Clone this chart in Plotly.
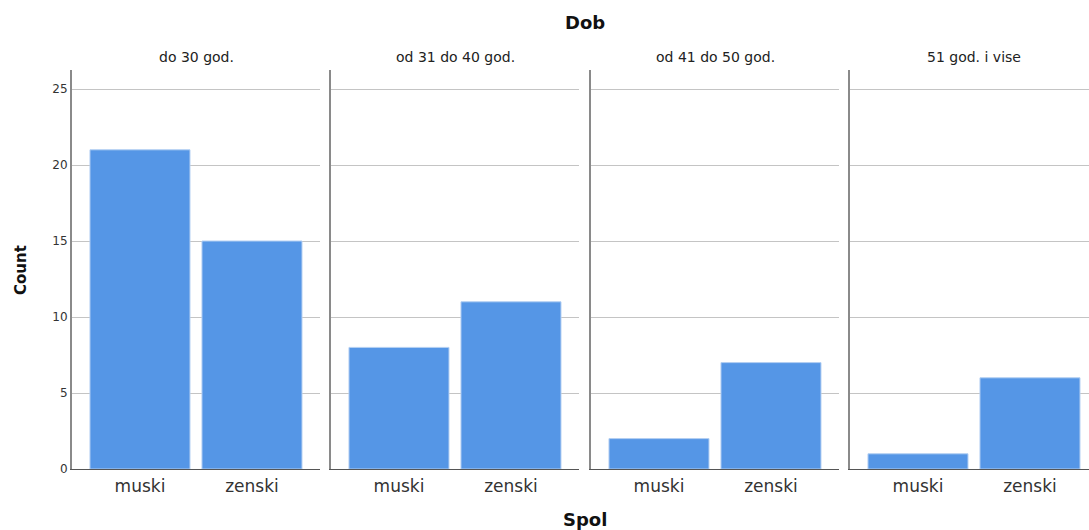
import plotly.graph_objects as go

panels = ["do 30 god.", "od 31 do 40 god.", "od 41 do 50 god.", "51 god. i vise"]
spol = ["muski", "zenski"]
counts = {
    "do 30 god.": [21, 15],
    "od 31 do 40 god.": [8, 11],
    "od 41 do 50 god.": [2, 7],
    "51 god. i vise": [1, 6],
}
y_ticks = [0, 5, 10, 15, 20, 25]

W, H = 1089, 530
ML, MR, MT, MB = 72, 0, 70, 61
plot_w = W - ML - MR
plot_h = H - MT - MB
panel_px = [(72, 320), (331, 579), (591, 839), (850, 1098)]
unit = 112.0  # px per category unit
FONT = "DejaVu Sans, sans-serif"


def px_x(x):
    return (x - ML) / plot_w


def px_y(y):
    return (H - MB - y) / plot_h


fig = go.Figure()
for i, p in enumerate(panels):
    idx = "" if i == 0 else str(i + 1)
    x0, x1 = panel_px[i]
    x1c = min(x1, W - MR)
    dom = [px_x(x0), px_x(x1c)]
    lo = -0.607
    hi = lo + (x1c - x0) / unit
    fig.add_trace(go.Bar(
        x=spol, y=counts[p], xaxis="x" + idx, yaxis="y" + idx,
        marker=dict(color="#5596E6", line=dict(color="#b3cff2", width=1)),
        width=0.893, showlegend=False, hoverinfo="x+y",
    ))
    fig.layout["xaxis" + idx] = dict(
        domain=dom, range=[lo, hi], type="category", categoryarray=spol,
        showgrid=False, showline=True, linecolor="#555555", linewidth=1,
        ticks="", tickfont=dict(family=FONT, size=17, color="#333333"),
        ticklabelstandoff=2,
        anchor="y" + idx, zeroline=False, fixedrange=True,
    )
    fig.layout["yaxis" + idx] = dict(
        range=[0, 26.25], tickvals=y_ticks, showticklabels=(i == 0),
        showgrid=True, gridcolor="#c4c4c4", gridwidth=1,
        showline=True, linecolor="#8a8a8a", linewidth=2,
        zeroline=False, ticks="", tickfont=dict(family=FONT, size=12, color="#333333"),
        anchor="x" + idx, fixedrange=True,
    )
    fig.add_annotation(
        x=px_x((x0 + x1) / 2), y=px_y(57), xref="paper", yref="paper",
        xanchor="center", yanchor="middle", text=p, showarrow=False,
        font=dict(family=FONT, size=14, color="#222222"),
    )

fig.add_annotation(x=px_x(585), y=px_y(22), xref="paper", yref="paper",
                   xanchor="center", yanchor="middle", text="<b>Dob</b>", showarrow=False,
                   font=dict(family=FONT, size=18, color="#111111"))
fig.add_annotation(x=px_x(585), y=px_y(519), xref="paper", yref="paper",
                   xanchor="center", yanchor="middle", text="<b>Spol</b>", showarrow=False,
                   font=dict(family=FONT, size=18, color="#111111"))
fig.add_annotation(x=px_x(21), y=px_y(270), xref="paper", yref="paper",
                   xanchor="center", yanchor="middle",
                   text="<b>Count</b>", showarrow=False, textangle=-90,
                   font=dict(family=FONT, size=15, color="#111111"))

fig.update_layout(
    width=W, height=H, margin=dict(l=ML, r=MR, t=MT, b=MB),
    plot_bgcolor="white", paper_bgcolor="white", bargap=0.107,
)
fig.write_html("out.html", config={"displayModeBar": False},
               post_script="document.body.style.margin='0px';document.body.style.overflow='hidden';")
